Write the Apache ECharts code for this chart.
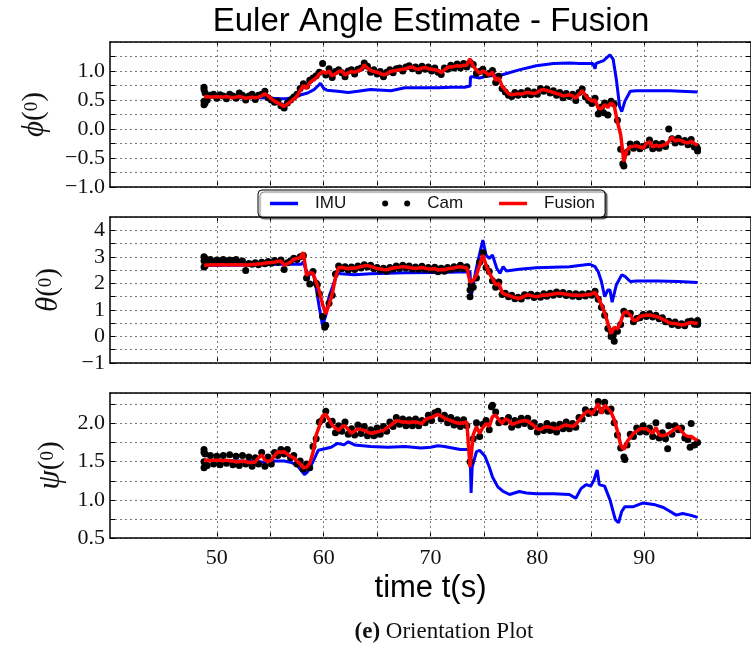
<!DOCTYPE html>
<html>
<head>
<meta charset="utf-8">
<script src="https://cdn.jsdelivr.net/npm/echarts@6/dist/echarts.min.js"></script>
<style>
  html, body { margin: 0; padding: 0; background: #fff; }
  #chart { width: 751px; height: 649px; }
</style>
</head>
<body>
<div id="chart"></div>
<script>
// ---- sampling clock shared by the camera samples and the fused estimate ----
const T0 = 48.8;          // first sample time (s)
const DT = 0.3;           // sample spacing (s)

// ---- time axis ticks ----
const timeTicks  = [50, 55, 60, 65, 70, 75, 80, 85, 90, 95];
const timeLabels = [50, 60, 70, 80, 90];

// ================= roll  phi =================
const phiImuT = [48.8,50,52,54,55,56,56.5,57.3,57.9,58.5,59.1,59.5,59.7,60.0,60.3,61.3,62.3,63.2,64.4,66.3,
  67.6,69.0,70.7,72.0,73.2,73.7,73.75,74.0,74.6,75.2,76.8,78.3,79.9,81.5,83.0,84.0,85.2,85.4,85.5,86.2,
  86.8,87.1,87.4,87.7,87.9,88.2,88.7,89.3,92.4,95.0];
const phiImuV = [0.55,0.55,0.54,0.54,0.53,0.52,0.52,0.55,0.59,0.62,0.68,0.75,0.79,0.70,0.67,0.65,0.63,0.65,0.68,0.66,
  0.71,0.71,0.71,0.72,0.72,0.74,0.90,0.90,0.88,0.91,0.94,1.02,1.09,1.13,1.14,1.13,1.13,1.04,1.13,1.18,
  1.28,1.20,0.85,0.39,0.30,0.48,0.65,0.66,0.66,0.64];
const phiCam = [
  0.68,0.50,0.58,0.60,0.53,0.59,0.57,0.52,0.60,0.57,
  0.53,0.62,0.58,0.50,0.57,0.60,0.51,0.58,0.60,0.65,
  0.54,0.50,0.46,0.48,0.40,0.36,0.45,0.50,0.55,0.60,
  0.70,0.78,0.74,0.84,0.88,0.92,0.98,1.13,0.93,1.04,
  0.89,0.99,1.02,0.97,0.90,1.00,1.02,0.95,1.03,1.05,
  1.14,1.08,0.98,1.02,0.95,0.99,0.90,0.98,1.02,0.97,
  1.04,1.05,1.00,1.07,1.09,1.04,1.07,1.00,1.08,1.03,
  1.07,1.00,1.05,0.98,0.94,1.05,1.03,1.10,1.05,1.12,
  1.05,1.13,1.07,1.15,1.11,0.96,0.99,1.03,0.94,0.96,
  1.01,0.80,0.91,0.70,0.64,0.58,0.56,0.63,0.58,0.63,
  0.59,0.66,0.59,0.64,0.60,0.70,0.65,0.69,0.62,0.66,
  0.58,0.63,0.54,0.61,0.56,0.60,0.49,0.63,0.69,0.55,
  0.49,0.44,0.53,0.26,0.38,0.45,0.24,0.48,0.43,0.15,
  -0.35,-0.64,-0.40,-0.26,-0.33,-0.26,-0.34,-0.30,-0.28,-0.19,
  -0.34,-0.25,-0.33,-0.25,-0.30,0.00,-0.17,-0.24,-0.16,-0.23,
  -0.20,-0.27,-0.18,-0.31,-0.34];
const phiCamExtraT = [48.8,48.8,48.8,48.9,48.9,85.9,86.2,88.0,94.9,95.0];
const phiCamExtraV = [0.42,0.72,0.48,0.62,0.45,0.32,0.28,-0.60,-0.30,-0.38];
const phiFusion = [
  0.55,0.56,0.55,0.55,0.56,0.55,0.55,0.56,0.55,0.54,
  0.55,0.56,0.55,0.53,0.54,0.55,0.54,0.55,0.57,0.61,
  0.57,0.52,0.48,0.45,0.42,0.39,0.43,0.47,0.52,0.56,
  0.66,0.75,0.70,0.80,0.84,0.88,0.95,0.99,0.96,1.00,
  0.92,0.95,0.99,1.00,0.93,0.97,0.99,0.98,1.00,1.02,
  1.11,1.05,1.01,0.99,0.98,0.96,0.93,0.95,0.99,1.00,
  1.01,1.02,1.03,1.04,1.06,1.07,1.04,1.03,1.05,1.06,
  1.04,1.03,1.02,1.01,0.97,1.02,1.06,1.07,1.08,1.09,
  1.08,1.10,1.10,1.21,1.08,1.02,0.96,1.00,0.97,0.93,
  0.98,0.84,0.88,0.74,0.67,0.61,0.59,0.60,0.61,0.60,
  0.62,0.63,0.62,0.61,0.63,0.67,0.68,0.66,0.65,0.63,
  0.61,0.60,0.57,0.58,0.59,0.57,0.53,0.60,0.66,0.58,
  0.52,0.48,0.50,0.36,0.35,0.42,0.37,0.45,0.40,0.12,
  -0.10,-0.56,-0.36,-0.30,-0.30,-0.29,-0.31,-0.33,-0.25,-0.22,
  -0.31,-0.28,-0.30,-0.28,-0.27,-0.22,-0.14,-0.21,-0.19,-0.20,
  -0.23,-0.24,-0.21,-0.25,-0.28];

// ================= pitch  theta =================
const thetaImuT = [48.8,52,54,56,57.9,58.1,58.3,58.6,59.0,59.2,59.6,59.9,60.2,60.5,61.0,61.3,61.6,62.9,64.4,66.0,
  67.6,70.7,73.7,73.8,74.0,74.2,74.5,74.9,75.2,75.5,75.8,76.2,76.5,76.8,77.1,78.3,79.9,81.5,83.0,84.3,
  84.9,85.4,85.7,86.0,86.3,86.6,86.8,87.0,87.4,87.9,88.2,88.7,89.3,91.2,93.2,95.0];
const thetaImuV = [2.67,2.68,2.70,2.72,2.72,2.82,2.55,2.32,2.38,2.07,1.07,0.40,0.80,1.50,2.07,2.42,2.36,2.32,2.36,2.38,
  2.40,2.41,2.44,1.50,1.90,2.40,2.94,3.63,3.07,2.94,3.07,2.57,2.38,2.63,2.47,2.53,2.59,2.61,2.63,2.69,
  2.72,2.63,2.44,2.07,1.50,1.75,1.75,1.29,1.95,2.32,2.26,2.07,2.09,2.09,2.07,2.03];
const thetaCam = [
  2.85,2.82,2.90,2.80,2.88,2.84,2.90,2.82,2.88,2.86,
  2.90,2.80,2.84,2.48,2.75,2.72,2.78,2.70,2.80,2.74,
  2.82,2.76,2.86,2.80,2.88,2.52,2.78,2.85,2.95,2.90,
  3.00,3.05,2.20,1.98,2.45,2.00,1.60,0.75,0.42,1.25,
  1.55,2.35,2.65,2.55,2.63,2.50,2.62,2.52,2.65,2.58,
  2.70,2.62,2.68,2.55,2.60,2.49,2.57,2.46,2.60,2.53,
  2.65,2.56,2.68,2.58,2.65,2.53,2.62,2.53,2.64,2.52,
  2.60,2.49,2.61,2.44,2.57,2.46,2.60,2.52,2.63,2.56,
  2.68,2.55,2.63,1.50,1.85,2.20,2.80,3.15,2.60,2.45,
  2.10,1.85,2.05,1.58,1.63,1.50,1.55,1.42,1.48,1.41,
  1.57,1.52,1.59,1.47,1.55,1.48,1.61,1.51,1.63,1.55,
  1.67,1.58,1.66,1.54,1.62,1.51,1.61,1.50,1.60,1.52,
  1.62,1.55,1.70,1.40,1.10,0.80,0.30,0.00,-0.18,0.20,
  0.45,0.95,0.85,0.87,0.55,0.68,0.70,0.83,0.75,0.86,
  0.73,0.80,0.67,0.70,0.55,0.57,0.45,0.54,0.41,0.48,
  0.40,0.55,0.58,0.46,0.55];
const thetaCamExtraT = [48.8,48.8,48.9,48.9,59.4,60.1,73.7,73.8,86.9,87.1,95.0,95.0];
const thetaCamExtraV = [2.62,3.00,2.95,2.65,1.95,0.35,1.75,1.95,0.20,0.05,0.45,0.60];
const thetaFusion = [
  2.68,2.69,2.69,2.70,2.69,2.70,2.70,2.69,2.70,2.70,
  2.69,2.70,2.70,2.68,2.70,2.71,2.72,2.73,2.74,2.76,
  2.78,2.79,2.80,2.82,2.84,2.68,2.74,2.80,2.90,2.94,
  2.96,3.17,2.30,2.40,2.38,2.05,1.70,1.20,0.85,1.20,
  1.60,2.20,2.60,2.60,2.58,2.55,2.58,2.57,2.60,2.63,
  2.66,2.67,2.64,2.60,2.55,2.55,2.52,2.51,2.55,2.58,
  2.60,2.61,2.63,2.62,2.60,2.58,2.57,2.58,2.60,2.57,
  2.55,2.54,2.56,2.50,2.52,2.51,2.55,2.57,2.58,2.61,
  2.63,2.60,2.58,2.05,2.10,2.32,2.69,3.07,2.69,2.38,
  2.19,1.94,2.00,1.65,1.58,1.55,1.50,1.47,1.43,1.46,
  1.52,1.57,1.54,1.51,1.50,1.53,1.56,1.55,1.58,1.60,
  1.62,1.63,1.61,1.59,1.57,1.55,1.56,1.54,1.55,1.57,
  1.57,1.60,1.66,1.45,1.20,0.90,0.50,0.10,0.35,0.28,
  0.55,0.90,0.92,0.81,0.60,0.62,0.75,0.78,0.80,0.81,
  0.78,0.75,0.72,0.65,0.60,0.52,0.50,0.49,0.46,0.43,
  0.45,0.50,0.53,0.50,0.50];

// ================= yaw  psi =================
const psiImuT = [48.8,50,52,54,54.5,55.0,56.3,57.0,57.6,58.2,58.5,59.0,59.5,60.1,60.7,61.3,61.9,62.3,62.9,64.4,
  66.0,67.6,69.1,70.0,70.7,71.3,72.8,73.7,73.8,73.9,74.3,74.6,75.1,75.5,75.8,76.3,76.8,77.4,78.3,79.0,
  79.9,81.5,83.0,83.6,84.1,84.6,85.0,85.3,85.6,85.8,86.3,86.8,87.3,87.6,87.9,88.2,89.0,89.9,90.9,91.8,
  92.4,93.0,93.6,94.3,95.0];
const psiImuV = [1.52,1.52,1.51,1.50,1.49,1.51,1.51,1.49,1.44,1.33,1.37,1.50,1.65,1.67,1.69,1.74,1.72,1.76,1.72,1.70,
  1.69,1.70,1.68,1.69,1.71,1.70,1.66,1.66,1.09,1.43,1.63,1.65,1.57,1.43,1.30,1.17,1.11,1.07,1.11,1.09,
  1.08,1.08,1.07,1.02,1.15,1.20,1.18,1.26,1.39,1.20,1.18,1.00,0.74,0.70,0.85,0.91,0.91,0.96,0.94,0.90,
  0.85,0.80,0.82,0.80,0.77];
const psiCam = [
  1.62,1.45,1.58,1.47,1.57,1.46,1.58,1.48,1.59,1.46,
  1.57,1.45,1.58,1.47,1.56,1.44,1.55,1.47,1.62,1.44,
  1.56,1.47,1.62,1.58,1.66,1.60,1.66,1.55,1.58,1.47,
  1.51,1.40,1.47,1.42,1.70,1.80,2.02,2.05,2.16,1.98,
  2.03,1.88,1.97,1.90,2.02,1.86,1.93,1.85,1.98,1.87,
  1.96,1.84,1.92,1.84,1.94,1.86,1.96,1.90,2.02,1.96,
  2.08,1.99,2.06,1.97,2.05,1.97,2.06,1.97,2.04,2.01,
  2.11,2.04,2.14,2.16,2.06,2.11,2.01,2.08,1.98,2.05,
  1.96,2.05,1.97,1.50,1.80,2.01,1.83,1.99,2.04,1.92,
  2.24,2.15,2.01,2.04,2.02,2.08,1.95,2.04,1.98,2.07,
  2.00,2.07,1.96,2.01,1.89,1.96,1.91,2.00,1.91,1.98,
  1.89,1.99,1.93,2.02,1.93,2.00,1.95,2.08,2.06,2.18,
  2.13,2.16,2.14,2.29,2.17,2.28,2.16,2.19,2.01,1.85,
  1.68,1.56,1.72,1.86,1.83,1.94,1.89,1.97,1.89,1.94,
  1.83,2.01,1.81,1.88,1.80,1.97,1.86,1.97,1.92,1.94,
  1.81,1.79,2.00,1.72,1.75];
const psiCamExtraT = [48.8,48.8,48.8,48.9,48.9,75.7,88.2,92.2,94.3];
const psiCamExtraV = [1.42,1.66,1.50,1.60,1.44,2.22,1.53,1.67,1.69];
const psiFusion = [
  1.52,1.52,1.51,1.52,1.52,1.52,1.51,1.52,1.51,1.51,
  1.50,1.50,1.51,1.50,1.49,1.49,1.50,1.55,1.59,1.52,
  1.50,1.52,1.58,1.63,1.62,1.63,1.60,1.57,1.55,1.51,
  1.47,1.42,1.43,1.48,1.62,1.85,1.97,2.10,2.12,2.05,
  1.98,1.94,1.91,1.96,1.97,1.92,1.87,1.90,1.93,1.92,
  1.91,1.89,1.87,1.88,1.89,1.90,1.91,1.94,1.97,2.00,
  2.04,2.03,2.02,2.02,2.01,2.02,2.02,2.01,2.00,2.05,
  2.07,2.08,2.10,2.12,2.10,2.07,2.05,2.04,2.02,2.01,
  2.00,2.01,2.02,1.43,1.85,1.96,1.87,1.95,2.00,1.96,
  2.09,2.11,2.05,2.00,2.06,2.04,1.99,2.00,2.02,2.03,
  2.04,2.03,2.00,1.97,1.93,1.92,1.95,1.96,1.95,1.94,
  1.93,1.95,1.97,1.98,1.97,1.96,1.99,2.04,2.10,2.14,
  2.17,2.12,2.18,2.26,2.13,2.24,2.20,2.15,2.05,1.90,
  1.72,1.66,1.76,1.82,1.87,1.90,1.93,1.93,1.93,1.90,
  1.87,1.95,1.85,1.84,1.85,1.87,1.90,1.93,1.96,1.90,
  1.85,1.83,1.83,1.80,1.78];

// ---- helpers ----
const SERIF = '"Liberation Serif", "DejaVu Serif", serif';
const SANS = '"Liberation Sans", Arial, sans-serif';
const INK = '#111';

function clocked(vals) {
  return vals.map((v, i) => [Math.round((T0 + i * DT) * 100) / 100, v]);
}
function paired(ts, vs) {
  return ts.map((t, i) => [t, vs[i]]);
}
function labelEvery(step, digits) {
  return function (v) {
    const k = v / step;
    if (Math.abs(k - Math.round(k)) > 1e-6) return '';
    return v.toFixed(digits).replace('-', '\u2212');
  };
}

const panels = [
  { sym: '\u03D5', imuT: phiImuT, imuV: phiImuV, cam: phiCam, exT: phiCamExtraT, exV: phiCamExtraV, fus: phiFusion,
    grid: { left: 110, top: 42, width: 641, height: 145 }, min: -1, max: 1.5, step: 0.25, labelStep: 0.5, digits: 1, nameGap: 60 },
  { sym: '\u03B8', imuT: thetaImuT, imuV: thetaImuV, cam: thetaCam, exT: thetaCamExtraT, exV: thetaCamExtraV, fus: thetaFusion,
    grid: { left: 110, top: 217, width: 641, height: 146 }, min: -1, max: 4.5, step: 0.5, labelStep: 1, digits: 0, nameGap: 46 },
  { sym: '\u03C8', imuT: psiImuT, imuV: psiImuV, cam: psiCam, exT: psiCamExtraT, exV: psiCamExtraV, fus: psiFusion,
    grid: { left: 110, top: 393, width: 641, height: 145 }, min: 0.5, max: 2.4, step: 0.25, labelStep: 0.5, digits: 1, nameGap: 44 }
];

const axisLineStyle = { color: '#000', width: 1.5 };
const gridDots = { color: '#7a7a7a', width: 1, type: [2, 3] };

const grid = [], xAxis = [], yAxis = [], series = [];

panels.forEach((p, i) => {
  grid.push(p.grid);
  const last = i === panels.length - 1;

  // bottom and mirrored top time axes
  xAxis.push({
    type: 'value', gridIndex: i, min: 40, max: 100, interval: 5, position: 'bottom',
    axisLine: { show: true, onZero: false, lineStyle: axisLineStyle },
    axisTick: { show: true, inside: true, length: 5, customValues: timeTicks, lineStyle: { color: '#000' } },
    axisLabel: last
      ? { show: true, customValues: timeLabels, fontFamily: SERIF, fontSize: 22, color: INK, margin: 9 }
      : { show: false },
    splitLine: { show: false },
    name: last ? 'time t(s)' : '',
    nameLocation: 'middle', nameGap: 35,
    nameTextStyle: { fontFamily: SANS, fontSize: 31, color: '#000' }
  });
  xAxis.push({
    type: 'value', gridIndex: i, min: 40, max: 100, interval: 5, position: 'top',
    axisLine: { show: true, onZero: false, lineStyle: axisLineStyle },
    axisTick: { show: true, inside: true, length: 5, customValues: timeTicks, lineStyle: { color: '#000' } },
    axisLabel: { show: false }, splitLine: { show: false }
  });

  // left value axis with labels, mirrored right axis with ticks only
  yAxis.push({
    type: 'value', gridIndex: i, min: p.min, max: p.max, interval: p.step, position: 'left',
    axisLine: { show: true, onZero: false, lineStyle: axisLineStyle },
    axisTick: { show: true, inside: true, length: 5, lineStyle: { color: '#000' } },
    axisLabel: { formatter: labelEvery(p.labelStep, p.digits), showMaxLabel: false,
      fontFamily: SERIF, fontSize: 22, color: INK, margin: 5 },
    splitLine: { show: true, lineStyle: gridDots },
    name: '{s|' + p.sym + '}{p|(}{z|0}{p|)}',
    nameLocation: 'middle', nameRotate: 90, nameGap: p.nameGap,
    nameTextStyle: {
      rich: {
        s: { fontFamily: SERIF, fontSize: 31, fontStyle: 'italic', color: INK, verticalAlign: 'middle' },
        p: { fontFamily: SERIF, fontSize: 29, color: INK, verticalAlign: 'middle' },
        z: { fontFamily: SERIF, fontSize: 19, color: INK, verticalAlign: 'middle', padding: [0, 0, 4, 0] }
      }
    }
  });
  yAxis.push({
    type: 'value', gridIndex: i, min: p.min, max: p.max, interval: p.step, position: 'right',
    axisLine: { show: true, onZero: false, lineStyle: axisLineStyle },
    axisTick: { show: true, inside: true, length: 5, lineStyle: { color: '#000' } },
    axisLabel: { show: false }, splitLine: { show: false }
  });

  const xi = 2 * i, yi = 2 * i;
  series.push({
    name: 'IMU', type: 'line', xAxisIndex: xi, yAxisIndex: yi,
    data: paired(p.imuT, p.imuV), symbol: 'none', showSymbol: false,
    lineStyle: { color: '#0000ff', width: 3 }, itemStyle: { color: '#0000ff' }, z: 2,
    markLine: {
      silent: true, symbol: ['none', 'none'], z: 1, animation: false,
      label: { show: false }, lineStyle: gridDots,
      data: timeTicks.map(t => ({ xAxis: t }))
    }
  });
  series.push({
    name: 'Cam', type: 'scatter', xAxisIndex: xi, yAxisIndex: yi,
    data: clocked(p.cam).concat(paired(p.exT, p.exV)),
    symbol: 'circle', symbolSize: 7, itemStyle: { color: '#000', opacity: 1 }, z: 3
  });
  series.push({
    name: 'Fusion', type: 'line', xAxisIndex: xi, yAxisIndex: yi,
    data: clocked(p.fus), symbol: 'none', showSymbol: false,
    lineStyle: { color: '#ff0000', width: 3.5 }, itemStyle: { color: '#ff0000' }, z: 4
  });
});

// legend samples: a short stroke for the lines, a pair of dots for the camera
const lineIcon = 'path://M0,0H28V3.5H0Z';
const dotsIcon = 'path://M0,3a3,3 0 1,0 6,0a3,3 0 1,0 -6,0M22,3a3,3 0 1,0 6,0a3,3 0 1,0 -6,0';

const chart = echarts.init(document.getElementById('chart'), null, { renderer: 'canvas' });
chart.setOption({
  animation: false,
  backgroundColor: '#fff',
  grid, xAxis, yAxis, series,
  legend: {
    left: 258, top: 190, orient: 'horizontal', selectedMode: false, z: 20,
    data: [
      { name: 'IMU', icon: lineIcon },
      { name: 'Cam', icon: dotsIcon },
      { name: 'Fusion', icon: lineIcon }
    ],
    itemWidth: 28, itemHeight: 14, itemGap: 36,
    padding: [5, 10, 5, 12],
    backgroundColor: '#fff', borderColor: '#000', borderWidth: 1, borderRadius: 4,
    shadowColor: 'rgba(0,0,0,0.55)', shadowOffsetX: 2, shadowOffsetY: 2, shadowBlur: 1,
    textStyle: { fontFamily: SANS, fontSize: 17, color: INK, padding: [0, 0, 0, 12] }
  },
  graphic: [
    {
      type: 'text', x: 431, y: 22, z: 30,
      style: {
        text: 'Euler Angle Estimate - Fusion', font: '33px "Liberation Sans", Arial, sans-serif',
        fill: '#000', align: 'center', verticalAlign: 'middle', textAlign: 'center', textVerticalAlign: 'middle'
      }
    },
    {
      type: 'text', x: 444, y: 632, z: 30,
      style: {
        text: '{b|(e)}{n| Orientation Plot}',
        align: 'center', verticalAlign: 'middle', textAlign: 'center', textVerticalAlign: 'middle',
        rich: {
          b: { fontFamily: SERIF, fontSize: 23, fontWeight: 'bold', fill: INK },
          n: { fontFamily: SERIF, fontSize: 23, fill: INK }
        }
      }
    }
  ]
});
</script>
</body>
</html>
